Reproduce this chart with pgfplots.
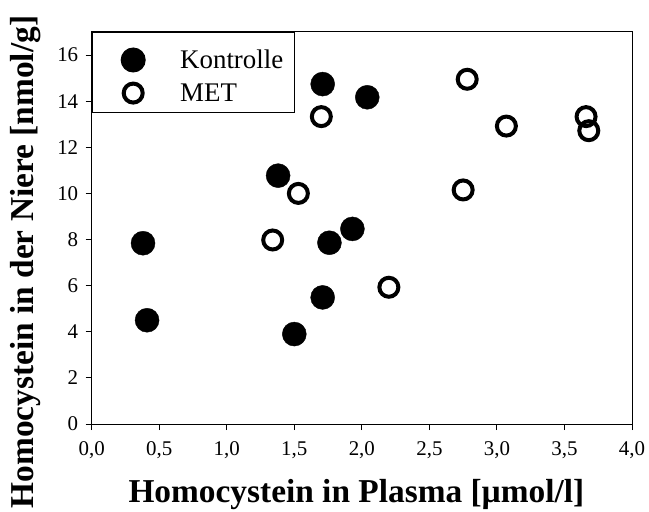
\documentclass[border=0pt]{standalone}
\usepackage{fontspec}
\setmainfont{Liberation Serif}
\usepackage{pgfplots}
\pgfplotsset{compat=1.18}
\pgfplotsset{
  kontrolleimg/.style={legend image code/.code={\path (0bp,0bp) (42bp,19.25bp); \draw[##1] plot coordinates {(30bp,0bp)};}},
  metimg/.style={legend image code/.code={\path (0bp,0bp) (42bp,19bp); \draw[##1] plot coordinates {(30bp,0bp)};}},
}
\begin{document}
\begin{tikzpicture}
\useasboundingbox (-91.7bp,-88bp) rectangle (557.3bp,424bp);
\begin{axis}[
  at={(0,0)}, anchor=south west,
  scale only axis,
  width=540.3bp, height=392bp,
  xmin=0, xmax=4, ymin=0, ymax=17,
  xtick={0,0.5,...,4.0},
  ytick={0,2,...,16},
  tick pos=left,
  tick align=outside,
  major tick length=6bp,
  axis line style={line width=1bp},
  every tick/.style={black, line width=1bp},
  /pgf/number format/assume math mode=true,
  xticklabel style={/pgf/number format/use comma, /pgf/number format/fixed, /pgf/number format/fixed zerofill, /pgf/number format/precision=1, yshift=-8bp},
  yticklabel style={xshift=-4bp},
  ticklabel style={font=\fontsize{21}{25}\selectfont},
  xlabel={\textbf{Homocystein in Plasma [µmol/l]}},
  ylabel={\textbf{Homocystein in der Niere [nmol/g]}},
  xlabel style={font=\fontsize{33.5}{38}\selectfont, at={(axis description cs:0.49,0)}, anchor=base, yshift=-78bp, inner sep=0pt},
  ylabel style={font=\fontsize{33.5}{38}\selectfont, at={(axis description cs:-0.1068,0.413)}, anchor=base, inner sep=0pt},
  clip=false,
  legend style={at={(0,1)}, anchor=north west, draw=black, line width=1bp,
    font=\fontsize{27}{30}\selectfont, inner xsep=9bp, inner ysep=7.75bp,
    nodes={inner sep=2bp},
    row sep=0bp,
    /tikz/every odd column/.append style={column sep=31bp}},
  legend cell align=left,
]
\addplot[only marks, mark=*, mark size=12bp, draw=black, fill=black, kontrolleimg] coordinates {
  (0.38,7.84) (0.41,4.50) (1.38,10.77) (1.71,14.74) (2.04,14.17)
  (1.76,7.86) (1.93,8.46) (1.71,5.49) (1.50,3.90)
};
\addlegendentry{Kontrolle}
\addplot[only marks, mark=o, mark size=9.5bp, line width=4bp, draw=black, fill=white, mark options={fill=white}, metimg] coordinates {
  (1.34,7.98) (1.53,10.00) (1.70,13.33) (2.78,14.95) (2.20,5.93)
  (2.75,10.15) (3.07,12.92) (3.66,13.33) (3.68,12.72)
};
\addlegendentry{MET}
\end{axis}
\end{tikzpicture}
\end{document}
